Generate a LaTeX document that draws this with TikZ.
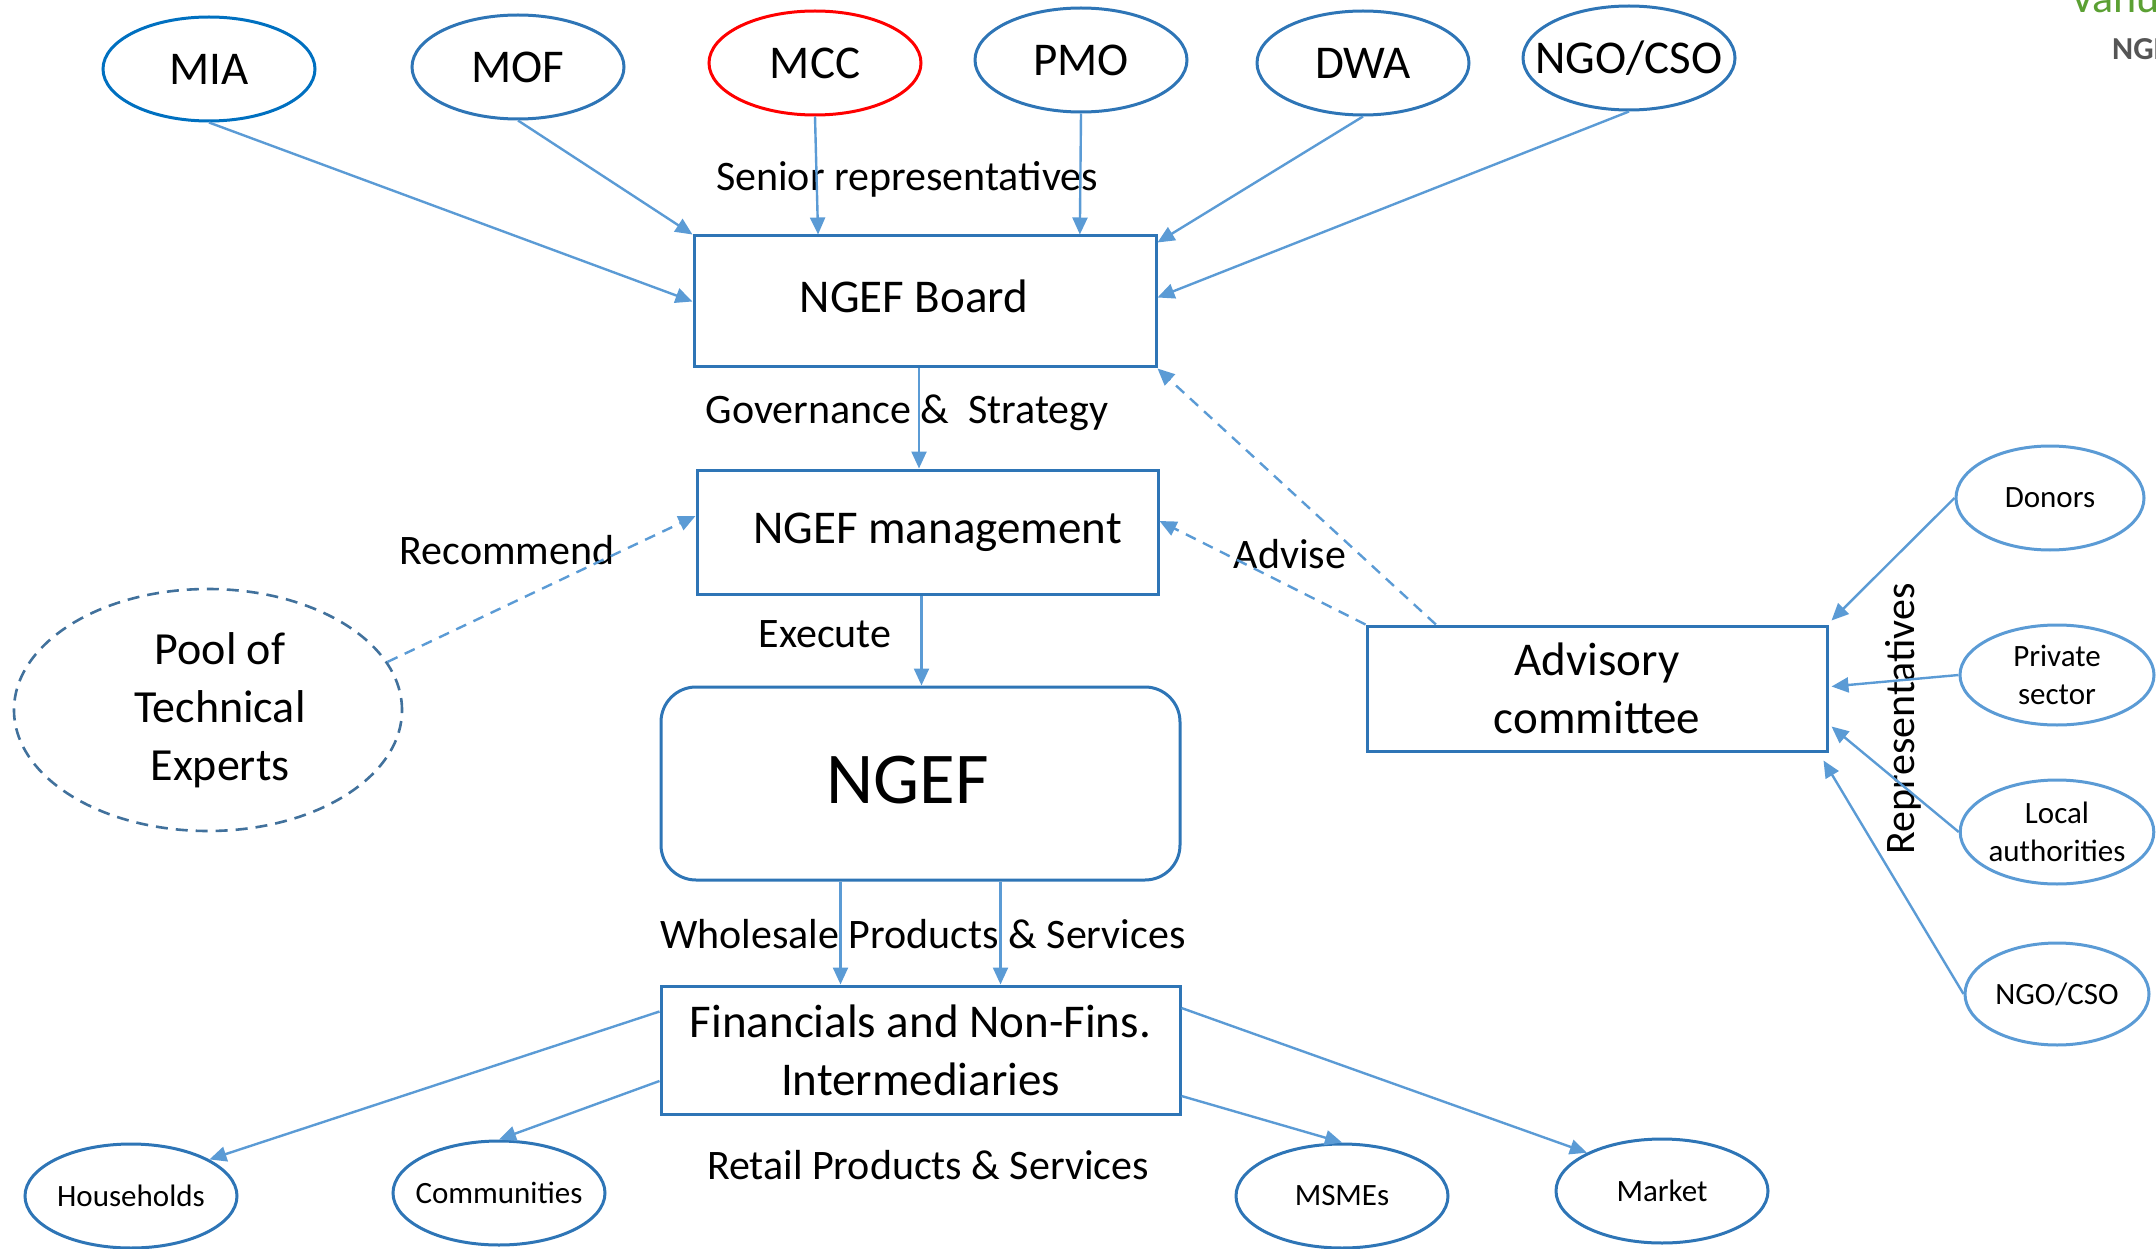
\documentclass[tikz,border=0pt]{standalone}
\usepackage{fontspec}
\setmainfont{Carlito}
\usetikzlibrary{arrows.meta,shapes.geometric,calc}
\definecolor{arr}{HTML}{5B9BD5}
\definecolor{boxc}{HTML}{2E75B6}
\definecolor{ellc}{HTML}{2E75B6}
\definecolor{miac}{HTML}{0070C0}
\definecolor{poolc}{HTML}{41719C}
\definecolor{logog}{HTML}{5BA033}
\definecolor{logok}{HTML}{555555}
\newcommand{\zb}[1]{\makebox[0pt]{#1}}
\begin{document}
\begin{tikzpicture}[x=1pt,y=-1pt,
  lbl/.style={font=\fontsize{42}{50}\selectfont, inner sep=0pt},
  bigtxt/.style={font=\fontsize{47}{58}\selectfont},
  smalltxt/.style={font=\fontsize{31}{38.5}\selectfont},
  topell/.style={ellipse, draw=ellc, line width=3pt, minimum width=212pt, minimum height=104pt, inner sep=0pt, bigtxt},
  sideell/.style={ellipse, draw=arr, line width=3pt, minimum width=190pt, minimum height=102pt, inner sep=0pt, smalltxt, align=center},
  botell/.style={ellipse, draw=boxc, line width=3pt, minimum width=212pt, minimum height=104pt, inner sep=0pt, smalltxt},
  mainbox/.style={rectangle, draw=boxc, line width=3pt, inner sep=0pt, bigtxt, align=center},
  conn/.style={draw=arr, line width=2.4pt, -{Triangle[length=17pt,width=15pt]}},
  dconn/.style={conn, dash pattern=on 11pt off 8pt}]
\useasboundingbox (0,0) rectangle (2156,1249);

% top ellipses
\node[topell, draw=miac] (MIA) at (209,69) {\zb{MIA}};
\node[topell] (MOF) at (518,67) {\zb{MOF}};
\node[topell, draw=red] (MCC) at (815,63) {\zb{MCC}};
\node[topell] (PMO) at (1081,60) {\zb{PMO}};
\node[topell] (DWA) at (1363,63) {\zb{DWA}};
\node[topell] (NGOt) at (1629,58) {\zb{NGO/CSO}};

% main boxes
\node[mainbox, minimum width=462pt, minimum height=131pt, text depth=10pt] (Board) at (925,301.5) {NGEF Board\hspace*{22pt}};
\node[mainbox, minimum width=461pt, minimum height=124pt] (Mgmt) at (927.5,532) {\hspace*{20pt}NGEF management};
\node[mainbox, rounded corners=35pt, minimum width=519pt, minimum height=193pt, text depth=8pt, font=\fontsize{73}{80}\selectfont] (NGEF) at (920.5,783.5) {NGEF\hspace*{26pt}};
\node[mainbox, minimum width=519pt, minimum height=128pt] (Fin) at (920.5,1050) {Financials and Non-Fins.\\Intermediaries};
\node[mainbox, minimum width=460pt, minimum height=125pt] (Adv) at (1597,688.5) {Advisory\\committee};

% pool
\node[ellipse, draw=poolc, line width=2.6pt, dash pattern=on 12pt off 8pt, minimum width=388pt, minimum height=242pt, inner sep=0pt, align=center, font=\fontsize{46}{58}\selectfont] (Pool) at (208,710) {\hspace*{24pt}Pool of\\\hspace*{24pt}Technical\\\hspace*{24pt}Experts};

% right ellipses
\node[sideell, minimum width=188pt, minimum height=104pt] (Don) at (2050,498) {\zb{Donors}};
\node[sideell, minimum width=194pt, minimum height=100pt] (Priv) at (2057,675) {Private\\sector};
\node[sideell, minimum width=192pt, minimum height=104pt] (Loc) at (2057,832) {Local\\authorities};
\node[sideell, minimum width=184pt, minimum height=102pt] (NGOr) at (2057,994) {\zb{NGO/CSO}};

% bottom ellipses
\node[botell] (HH) at (131,1196) {\zb{Households}};
\node[botell] (Com) at (499,1193) {\zb{Communities}};
\node[botell] (MSME) at (1342,1196) {\zb{MSMEs}};
\node[botell] (Mkt) at (1662,1191) {\zb{Market}};

% labels
\node[lbl] (lSenior) at (907,179) {Senior representatives};
\node[lbl] (lGov) at (907,413) {Governance \&\ \ Strategy};
\node[lbl] (lRec) at (507,550) {Recommend};
\node[lbl] (lAdv) at (1290,554) {Advise};
\node[lbl] (lExe) at (825,634) {Execute};
\node[lbl] (lWhole) at (923,934) {Wholesale Products \& Services};
\node[lbl] (lRetail) at (928,1165) {Retail Products \& Services};
\node[lbl, rotate=90] (lRep) at (1903,719) {Representatives};

% logo fragments
\node[anchor=base west, inner sep=0pt, text=logog, font=\fontsize{44}{44}\selectfont] (logo1) at (2070,13) {Vanuatu};
\node[anchor=base west, inner sep=0pt, text=logok, font=\fontsize{32}{32}\selectfont\bfseries] (logo2) at (2112,60) {NGEF};

% connectors top
\draw[conn] (MIA.south) -- (Board.west);
\draw[conn] (MOF.south) -- (Board.north west);
\draw[conn] (MCC.south) -- ($(Board.north west)!0.27!(Board.north east)$);
\draw[conn] (PMO.south) -- ($(Board.north west)!0.833!(Board.north east)$);
\draw[conn] (DWA.south) -- ([yshift=-8pt]Board.north east);
\draw[conn] (NGOt.south) -- ([yshift=4pt]Board.east);

% vertical chain
\draw[conn] ([xshift=-6pt]Board.south) -- ([xshift=-6pt]Board.south |- Mgmt.north);
\draw[conn] ([xshift=-6pt]Mgmt.south) -- ([xshift=-6pt]Mgmt.south |- NGEF.north);
\draw[conn] ([xshift=-80pt]NGEF.south) -- ([xshift=-80pt]Fin.north);
\draw[conn] ([xshift=80pt]NGEF.south) -- ([xshift=80pt]Fin.north);

% dashed
\draw[dconn] (Pool.15) -- ([yshift=16pt]Mgmt.west);
\draw[dconn] (Adv.north west) -- ([yshift=11pt]Mgmt.east);
\draw[dconn] ($(Adv.north west)!0.152!(Adv.north east)$) -- (Board.south east);

% right side
\draw[conn] (Don.west) -- ([xshift=3pt,yshift=4pt]Adv.north east);
\draw[conn] (Priv.west) -- ([xshift=3pt,yshift=2pt]Adv.east);
\draw[conn] (Loc.west) -- ([xshift=3pt,yshift=-38pt]Adv.east);
\draw[conn] (NGOr.west) -- ([xshift=-5pt,yshift=-8pt]Adv.south east);

% bottom
\draw[conn] ([yshift=-27pt]Fin.north west) -- (HH.25);
\draw[conn] ([yshift=-31pt]Fin.west) -- (Com.north);
\draw[conn] ([yshift=-46pt]Fin.east) -- (MSME.north);
\draw[conn] ([yshift=42pt]Fin.east) -- (Mkt.153);
\end{tikzpicture}
\end{document}
